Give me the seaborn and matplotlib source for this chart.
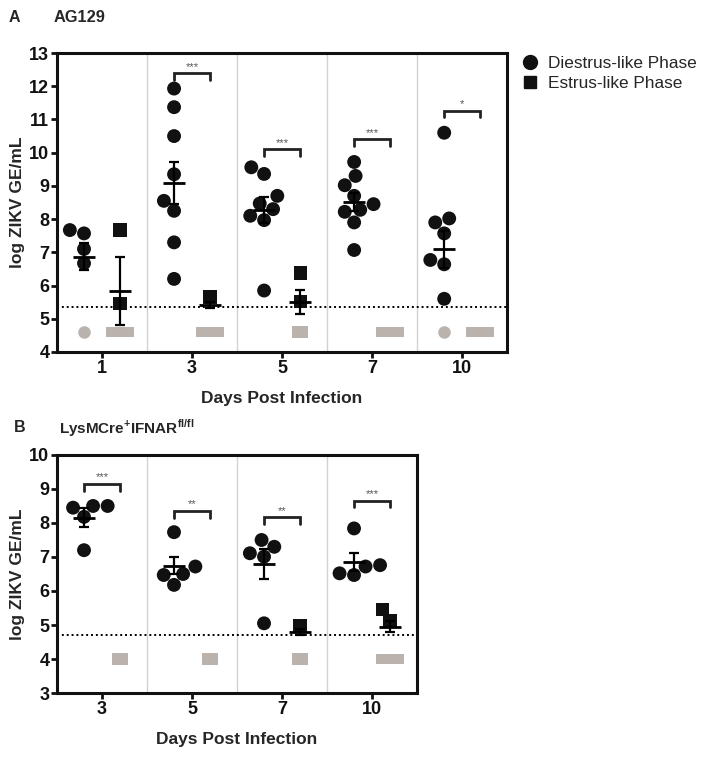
import matplotlib
matplotlib.use("Agg")
import matplotlib.pyplot as plt
from matplotlib.lines import Line2D
import numpy as np
import pandas as pd
import seaborn as sns

sns.set_theme(style="white")
plt.rcParams["font.family"] = ["Liberation Sans", "DejaVu Sans"]
plt.rcParams["mathtext.fontset"] = "custom"
plt.rcParams["mathtext.bf"] = "Liberation Sans:bold"

PHASES = ["Diestrus-like Phase", "Estrus-like Phase"]
GRAY = "#bab3ad"

# panel A: AG129
a_days = ["1", "3", "5", "7", "10"]
a_diestrus = [
    [7.57, 7.67, 7.10, 6.67],
    [11.93, 11.37, 10.50, 9.35, 8.55, 8.25, 7.30, 6.20],
    [9.56, 9.36, 8.70, 8.47, 8.30, 8.10, 7.97, 5.85],
    [9.72, 9.30, 9.02, 8.70, 8.45, 8.28, 8.22, 7.90, 7.07],
    [10.60, 8.02, 7.90, 7.57, 6.77, 6.64, 5.60],
]
a_estrus = [[7.67, 5.46], [5.66], [6.38, 5.51], [], []]
a_diestrus_below = [1, 0, 0, 0, 1]
a_estrus_below = [2, 2, 1, 2, 2]
a_diestrus_mean = [6.87, 9.08, 8.27, 8.52, 7.09]
a_diestrus_sem = [0.41, 0.63, 0.40, 0.28, 0.55]
a_estrus_mean = [5.84, 5.41, 5.50, np.nan, np.nan]
a_estrus_sem = [1.02, 0.09, 0.36, np.nan, np.nan]
a_sig = ["", "***", "***", "***", "*"]
a_sig_y = [np.nan, 12.39, 10.11, 10.40, 11.26]
a_lod = 5.36
a_below_y = 4.6

# panel B: LysMCre+IFNAR fl/fl
b_days = ["3", "5", "7", "10"]
b_diestrus = [
    [8.50, 8.45, 8.50, 8.18, 7.20],
    [7.73, 6.72, 6.50, 6.47, 6.18],
    [7.50, 7.30, 7.11, 7.01, 5.05],
    [7.84, 6.76, 6.72, 6.52, 6.47],
]
b_estrus = [[], [], [4.97], [5.46, 5.13]]
b_diestrus_below = [0, 0, 0, 0]
b_estrus_below = [1, 1, 1, 2]
b_diestrus_mean = [8.16, 6.74, 6.79, 6.85]
b_diestrus_sem = [0.27, 0.25, 0.44, 0.27]
b_estrus_mean = [np.nan, np.nan, 4.79, 4.95]
b_estrus_sem = [np.nan, np.nan, 0.09, 0.17]
b_sig = ["***", "**", "**", "***"]
b_sig_y = [9.15, 8.36, 8.17, 8.66]
b_lod = 4.7
b_below_y = 4.0


def detected_table(days, diestrus, estrus):
    rows = []
    for day, vals in zip(days, diestrus):
        rows += [(day, PHASES[0], v) for v in vals]
    for day, vals in zip(days, estrus):
        rows += [(day, PHASES[1], v) for v in vals]
    return pd.DataFrame(rows, columns=["day", "phase", "value"])


def below_table(days, d_below, e_below, below_y):
    rows = []
    for day, k in zip(days, d_below):
        if k:
            rows.append((day, PHASES[0], below_y, k))
    for day, k in zip(days, e_below):
        if k:
            rows.append((day, PHASES[1], below_y, k))
    return pd.DataFrame(rows, columns=["day", "phase", "value", "count"])


def bar_marker(count):
    # overlapping squares below the detection limit look like one wide bar
    half_w = 0.5 + 0.55 * (count - 1)
    return [(-half_w, -0.4), (half_w, -0.4), (half_w, 0.4), (-half_w, 0.4), (-half_w, -0.4)]


def draw_panel(ax, days, diestrus, estrus, d_below, e_below, below_y,
               d_mean, d_sem, e_mean, e_sem, sig, sig_y, lod, ylim):
    n = len(days)
    for i in range(n - 1):
        ax.axvline(i + 0.5, color="#d2d2d2", lw=1.0, zorder=0)
    ax.axhline(lod, color="black", ls=(0, (1, 1.5)), lw=1.4, zorder=1)

    det = detected_table(days, diestrus, estrus)
    for phase, marker, size in [(PHASES[0], "o", 10), (PHASES[1], "s", 9.5)]:
        sub = det[det["phase"] == phase]
        sns.swarmplot(data=sub, x="day", y="value", hue="phase",
                      order=days, hue_order=PHASES, dodge=True,
                      palette=["#111111"] * 2, marker=marker, size=size,
                      linewidth=0, legend=False, ax=ax, zorder=3)

    bel = below_table(days, d_below, e_below, below_y)
    circ = bel[bel["phase"] == PHASES[0]]
    sns.stripplot(data=circ, x="day", y="value", hue="phase", order=days,
                  hue_order=PHASES, dodge=True, jitter=False,
                  palette=[GRAY] * 2, marker="o", size=9, linewidth=0,
                  legend=False, ax=ax, zorder=2)
    rect = bel[bel["phase"] == PHASES[1]]
    for k in sorted(rect["count"].unique()):
        sub = rect[rect["count"] == k]
        sns.stripplot(data=sub, x="day", y="value", hue="phase", order=days,
                      hue_order=PHASES, dodge=True, jitter=False,
                      palette=[GRAY] * 2, marker=bar_marker(k),
                      size=11.5 + 8.5 * (k - 1), linewidth=0,
                      legend=False, ax=ax, zorder=2)

    x = np.arange(n)
    for off, mean, sem in [(-0.2, d_mean, d_sem), (0.2, e_mean, e_sem)]:
        ax.errorbar(x + off, mean, yerr=sem, fmt="none", ecolor="black",
                    elinewidth=1.6, capsize=3.5, capthick=1.6, zorder=4)
        ax.plot(x + off, mean, ls="none", marker="_", ms=16, mew=2.0,
                color="black", zorder=4)

    for i, (s, y) in enumerate(zip(sig, sig_y)):
        if not s:
            continue
        ax.plot([i - 0.2, i - 0.2, i + 0.2, i + 0.2], [y - 0.2, y, y, y - 0.2],
                color="#222222", lw=2.0, solid_joinstyle="miter", zorder=4)
        ax.text(i, y + 0.04, s, ha="center", va="bottom", fontsize=8,
                color="#555555")

    ax.set_xlim(-0.5, n - 0.5)
    ax.set_ylim(*ylim)
    ax.set_yticks(range(ylim[0], ylim[1] + 1))
    ax.set_xlabel("Days Post Infection", fontsize=12.5, fontweight="bold",
                  labelpad=10)
    ax.set_ylabel("log ZIKV GE/mL", fontsize=12.5, fontweight="bold",
                  labelpad=3)
    for sp in ax.spines.values():
        sp.set_visible(True)
        sp.set_linewidth(2.2)
        sp.set_color("#111111")
    ax.tick_params(axis="both", direction="out", length=4, width=2,
                   labelsize=13, colors="#111111", bottom=True, left=True,
                   pad=1.5)
    for lab in ax.get_xticklabels() + ax.get_yticklabels():
        lab.set_fontweight("bold")


fig = plt.figure(figsize=(7.09, 7.64), dpi=100)
ax_a = fig.add_axes([0.0804, 0.5393, 0.635, 0.3913])
ax_b = fig.add_axes([0.0804, 0.0929, 0.5078, 0.3116])

draw_panel(ax_a, a_days, a_diestrus, a_estrus, a_diestrus_below,
           a_estrus_below, a_below_y, a_diestrus_mean, a_diestrus_sem,
           a_estrus_mean, a_estrus_sem, a_sig, a_sig_y, a_lod, (4, 13))
draw_panel(ax_b, b_days, b_diestrus, b_estrus, b_diestrus_below,
           b_estrus_below, b_below_y, b_diestrus_mean, b_diestrus_sem,
           b_estrus_mean, b_estrus_sem, b_sig, b_sig_y, b_lod, (3, 10))

handles = [
    Line2D([], [], ls="none", marker="o", ms=10, color="#111111"),
    Line2D([], [], ls="none", marker="s", ms=9, color="#111111"),
]
fig.legend(handles, PHASES, loc="upper left", bbox_to_anchor=(0.725, 0.936),
           frameon=False, fontsize=12.4, handletextpad=0.5, labelspacing=0.32,
           handlelength=1.1, borderaxespad=0)

fig.text(14 / 709, 1 - 18 / 764, "A", fontsize=11.5, fontweight="bold",
         ha="center", va="center")
fig.text(54 / 709, 1 - 18 / 764, "AG129", fontsize=11.8, fontweight="bold",
         ha="left", va="center")
fig.text(20 / 709, 1 - 428 / 764, "B", fontsize=11.5, fontweight="bold",
         ha="center", va="center")
fig.text(59 / 709, 1 - 428 / 764,
         r"LysMCre$^{\mathbf{+}}$IFNAR$^{\mathbf{fl/fl}}$",
         fontsize=11, fontweight="bold", ha="left", va="center")

fig.savefig("out.png", dpi=100)
